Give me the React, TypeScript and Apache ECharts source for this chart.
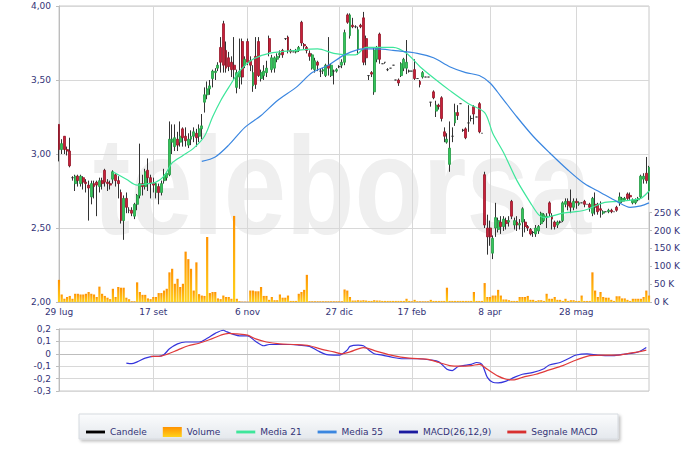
import React, { useEffect, useRef } from "react";
import * as echarts from "echarts";

// ---------- DATA ----------
const tickIdx = [0, 35, 70, 104, 131, 160, 192];
const tickLabels = ["29 lug", "17 set", "6 nov", "27 dic", "17 feb", "8 apr", "28 mag"];

// [open, close, low, high]
const candles: number[][] = [
  [3.20,3.03,2.95,3.20],[3.03,3.07,3.00,3.10],[3.12,3.03,3.00,3.12],[3.03,3.02,2.99,3.05],[3.02,2.92,2.91,3.11],
  [2.84,2.84,2.82,2.85],[2.80,2.85,2.75,2.86],[2.85,2.82,2.78,2.86],[2.80,2.85,2.78,2.86],[2.84,2.81,2.76,2.85],
  [2.81,2.80,2.74,2.83],[2.79,2.77,2.55,2.82],[2.71,2.80,2.66,2.82],[2.80,2.78,2.70,2.82],[2.81,2.79,2.58,2.82],
  [2.78,2.82,2.74,2.84],[2.82,2.80,2.76,2.84],[2.89,2.81,2.78,2.90],[2.81,2.80,2.75,2.83],[2.80,2.79,2.76,2.82],
  [2.83,2.88,2.80,2.89],[2.86,2.82,2.78,2.87],[2.82,2.80,2.70,2.85],[2.74,2.55,2.53,2.76],[2.55,2.70,2.42,2.72],
  [2.70,2.64,2.60,2.74],[2.62,2.62,2.60,2.64],[2.62,2.60,2.58,2.64],[2.58,2.66,2.56,2.67],[2.66,2.72,2.62,2.73],
  [2.72,2.80,2.70,3.07],[2.80,2.78,2.72,2.86],[2.78,2.88,2.76,2.90],[2.89,2.84,2.75,2.97],[2.84,2.80,2.70,2.86],
  [2.80,2.79,2.74,2.84],[2.74,2.80,2.70,2.81],[2.78,2.74,2.66,2.80],[2.74,2.80,2.72,2.82],[2.82,2.86,2.80,2.90],
  [2.84,2.87,2.82,2.88],[2.86,3.10,2.85,3.22],[3.08,3.10,3.00,3.20],[3.05,3.11,3.02,3.20],[3.10,3.06,3.02,3.15],
  [3.08,3.12,3.05,3.22],[3.17,3.11,3.05,3.18],[3.12,3.09,3.05,3.18],[3.06,3.10,3.04,3.14],[3.10,3.12,3.06,3.16],
  [3.12,3.15,3.08,3.18],[3.14,3.11,3.05,3.17],[3.12,3.17,3.08,3.20],[3.17,3.19,3.10,3.27],[3.35,3.40,3.28,3.45],
  [3.40,3.44,3.37,3.49],[3.44,3.46,3.40,3.50],[3.51,3.56,3.45,3.57],[3.55,3.56,3.50,3.58],[3.58,3.60,3.56,3.62],
  [3.72,3.62,3.55,3.79],[3.88,3.60,3.55,3.90],[3.70,3.58,3.55,3.76],[3.65,3.59,3.56,3.69],[3.62,3.57,3.52,3.66],
  [3.60,3.57,3.50,3.79],[3.45,3.55,3.41,3.57],[3.52,3.56,3.44,3.78],[3.76,3.52,3.47,3.78],[3.60,3.64,3.58,3.66],
  [3.76,3.62,3.60,3.78],[3.63,3.60,3.56,3.66],[3.46,3.55,3.42,3.60],[3.66,3.47,3.44,3.79],[3.76,3.53,3.52,3.79],
  [3.51,3.55,3.49,3.57],[3.53,3.56,3.50,3.60],[3.55,3.58,3.52,3.63],[3.78,3.69,3.66,3.80],[3.57,3.65,3.55,3.67],
  [3.58,3.65,3.55,3.66],[3.64,3.66,3.62,3.68],[3.67,3.68,3.65,3.70],[3.70,3.67,3.65,3.71],[3.78,3.78,3.77,3.78],
  [3.79,3.70,3.68,3.80],[3.70,3.69,3.68,3.71],[3.69,3.69,3.69,3.69],[3.69,3.70,3.68,3.71],[3.70,3.72,3.69,3.73],
  [3.89,3.75,3.73,3.90],[3.74,3.73,3.71,3.75],[3.72,3.70,3.68,3.73],[3.68,3.66,3.63,3.70],[3.58,3.67,3.57,3.68],
  [3.57,3.63,3.55,3.65],[3.62,3.60,3.56,3.63],[3.56,3.56,3.52,3.58],[3.56,3.57,3.54,3.58],[3.53,3.60,3.52,3.61],
  [3.60,3.58,3.53,3.79],[3.53,3.60,3.52,3.61],[3.56,3.56,3.47,3.57],[3.56,3.57,3.55,3.58],[3.59,3.59,3.58,3.60],
  [3.60,3.62,3.58,3.64],[3.62,3.82,3.60,3.84],[3.94,3.89,3.88,3.95],[3.80,3.94,3.78,3.95],[3.87,3.86,3.85,3.92],
  [3.86,3.86,3.85,3.87],[3.71,3.84,3.67,3.86],[3.87,3.86,3.85,3.88],[3.92,3.62,3.60,3.96],[3.78,3.65,3.60,3.80],
  [3.53,3.53,3.50,3.53],[3.55,3.54,3.52,3.56],[3.42,3.70,3.40,3.72],[3.64,3.72,3.62,3.73],[3.81,3.64,3.61,3.82],
  [3.61,3.61,3.61,3.61],[3.62,3.62,3.61,3.62],[3.57,3.57,3.56,3.58],[3.58,3.58,3.58,3.58],[3.60,3.60,3.60,3.60],
  [3.50,3.50,3.50,3.50],[3.50,3.48,3.46,3.51],[3.53,3.61,3.52,3.62],[3.58,3.64,3.56,3.65],[3.58,3.62,3.54,3.77],
  [3.56,3.56,3.55,3.57],[3.56,3.56,3.56,3.56],[3.57,3.51,3.50,3.64],[3.51,3.51,3.51,3.51],[3.49,3.47,3.45,3.50],
  [3.52,3.55,3.51,3.56],[3.52,3.52,3.52,3.52],[3.52,3.52,3.52,3.52],[3.35,3.35,3.32,3.35],[3.42,3.38,3.37,3.43],
  [3.29,3.33,3.25,3.36],[3.33,3.32,3.30,3.34],[3.38,3.24,3.22,3.39],[3.15,3.12,3.08,3.18],[3.08,3.10,3.07,3.14],
  [2.93,3.04,2.88,3.22],[3.12,3.12,3.08,3.18],[3.21,3.28,3.19,3.34],[3.28,3.26,3.23,3.33],[3.34,3.34,3.34,3.34],
  [3.16,3.16,3.15,3.17],[3.17,3.11,3.10,3.18],[3.21,3.21,3.15,3.33],[3.24,3.24,3.22,3.26],[3.32,3.27,3.20,3.33],
  [3.25,3.25,3.25,3.25],[3.34,3.15,3.14,3.35],[3.14,3.14,3.14,3.14],[2.86,2.52,2.50,2.88],[2.50,2.44,2.32,2.59],
  [2.50,2.44,2.38,2.55],[2.33,2.43,2.29,2.45],[2.50,2.57,2.44,2.67],[2.49,2.55,2.47,2.57],[2.54,2.51,2.46,2.58],
  [2.51,2.56,2.48,2.58],[2.55,2.53,2.49,2.57],[2.54,2.55,2.51,2.58],[2.68,2.58,2.56,2.69],[2.52,2.55,2.49,2.57],
  [2.54,2.52,2.48,2.58],[2.52,2.53,2.49,2.56],[2.54,2.63,2.44,2.64],[2.54,2.51,2.47,2.56],[2.51,2.50,2.48,2.52],
  [2.49,2.46,2.45,2.50],[2.47,2.47,2.44,2.48],[2.46,2.50,2.44,2.52],[2.48,2.51,2.46,2.52],[2.53,2.60,2.52,2.61],
  [2.55,2.59,2.54,2.60],[2.57,2.58,2.50,2.60],[2.67,2.60,2.58,2.68],[2.58,2.56,2.49,2.60],[2.54,2.51,2.49,2.55],
  [2.52,2.54,2.50,2.55],[2.54,2.54,2.53,2.55],[2.55,2.67,2.54,2.68],[2.66,2.68,2.64,2.70],[2.68,2.65,2.62,2.70],
  [2.67,2.64,2.60,2.76],[2.64,2.68,2.62,2.70],[2.68,2.67,2.63,2.70],[2.66,2.67,2.65,2.68],[2.67,2.67,2.67,2.67],
  [2.68,2.66,2.64,2.69],[2.66,2.66,2.66,2.66],[2.66,2.64,2.61,2.67],[2.60,2.70,2.58,2.71],[2.66,2.64,2.59,2.74],
  [2.66,2.61,2.59,2.67],[2.63,2.62,2.57,2.68],[2.60,2.61,2.59,2.62],[2.61,2.61,2.61,2.61],[2.61,2.62,2.60,2.63],
  [2.62,2.61,2.60,2.63],[2.61,2.61,2.61,2.61],[2.64,2.62,2.61,2.65],[2.67,2.71,2.65,2.74],[2.68,2.70,2.67,2.71],
  [2.69,2.70,2.68,2.71],[2.73,2.70,2.69,2.74],[2.72,2.71,2.69,2.74],[2.67,2.69,2.66,2.70],[2.67,2.69,2.66,2.70],
  [2.69,2.70,2.68,2.71],[2.71,2.85,2.70,2.86],[2.83,2.85,2.80,2.87],[2.87,2.82,2.80,2.98],[2.75,2.91,2.69,2.92],
];

// volume in thousands
const volumes = [
  62,21,9,14,17,9,23,23,21,21, 23,28,23,21,14,43,23,17,12,8,
  37,14,42,40,40,12,8,2,2,55, 28,20,20,10,8,14,14,25,25,32,
  37,83,93,51,65,42,51,141,120,93, 32,111,22,18,17,182,25,28,28,10,
  8,18,14,14,9,241,9,2,1,1, 1,32,32,30,30,42,17,17,6,14,
  5,5,21,12,12,18,3,3,3,23, 28,34,76,2,2,2,2,2,2,2,
  2,2,2,2,2,2,35,32,14,4, 4,5,4,5,4,3,3,5,4,4,
  3,3,3,3,3,3,3,3,3,9, 3,2,6,2,2,2,2,2,6,3,
  3,3,3,3,40,3,3,3,3,3, 3,3,3,3,28,3,3,3,53,14,
  14,18,18,34,18,7,7,5,3,3, 3,14,14,14,17,6,6,3,5,5,
  3,23,9,9,14,6,6,3,9,3, 5,5,3,3,18,3,3,3,83,32,
  14,28,14,12,12,6,3,16,16,10, 10,6,3,9,9,9,9,14,32,18,
];

// [index, value] points
const ma21: number[][] = [
  [20,2.88],[25,2.83],[29,2.79],[33,2.80],[36,2.81],[39,2.85],[42,2.94],[46,2.99],[50,3.04],[54,3.12],
  [57,3.25],[60,3.36],[63,3.45],[67,3.56],[72,3.64],[78,3.68],[88,3.70],[96,3.71],[102,3.68],[107,3.67],
  [110,3.67],[114,3.72],[124,3.72],[129,3.68],[134,3.59],[140,3.50],[145,3.43],[152,3.34],[158,3.28],[161,3.14],
  [165,3.01],[170,2.82],[175,2.67],[178,2.59],[180,2.57],[187,2.60],[195,2.62],[202,2.67],[207,2.68],[213,2.69],
  [216,2.70],[219,2.75],
];
const ma55: number[][] = [
  [53,2.95],[58,2.98],[63,3.06],[69,3.18],[75,3.26],[81,3.36],[88,3.45],[94,3.55],[100,3.60],[106,3.67],
  [113,3.71],[118,3.71],[124,3.70],[133,3.68],[139,3.65],[145,3.59],[151,3.55],[156,3.53],[160,3.48],[164,3.39],
  [170,3.25],[176,3.12],[182,3.01],[189,2.89],[195,2.80],[201,2.74],[207,2.68],[212,2.64],[216,2.65],[219,2.67],
];
const macd: number[][] = [
  [25,-0.075],[27,-0.08],[29,-0.065],[32,-0.035],[35,-0.02],[37,-0.02],[39,-0.005],[41,0.04],[44,0.08],[47,0.095],
  [50,0.095],[52,0.095],[55,0.125],[58,0.165],[61,0.19],[62,0.18],[65,0.155],[67,0.145],[70,0.145],[73,0.10],
  [76,0.065],[78,0.075],[82,0.075],[86,0.075],[89,0.07],[93,0.06],[96,0.025],[99,-0.005],[102,-0.01],[104,-0.01],
  [107,0.03],[108,0.06],[111,0.07],[113,0.065],[115,0.03],[117,0],[120,-0.01],[124,-0.03],[128,-0.04],[133,-0.04],
  [138,-0.05],[141,-0.065],[144,-0.125],[146,-0.135],[148,-0.105],[150,-0.095],[153,-0.085],[155,-0.07],[157,-0.085],[159,-0.19],
  [161,-0.23],[163,-0.235],[166,-0.22],[169,-0.19],[172,-0.165],[176,-0.15],[180,-0.12],[182,-0.09],[186,-0.07],[189,-0.04],
  [192,-0.01],[196,0],[200,-0.01],[205,-0.015],[209,-0.005],[214,0.01],[216,0.025],[218,0.05],
];
const signal: number[][] = [
  [34,-0.02],[37,-0.02],[40,-0.005],[44,0.03],[48,0.065],[52,0.085],[56,0.115],[60,0.15],[63,0.165],[66,0.16],
  [70,0.15],[73,0.12],[77,0.095],[82,0.08],[87,0.075],[93,0.065],[97,0.04],[102,0.015],[105,0],[108,0.015],
  [113,0.05],[118,0.02],[124,-0.015],[130,-0.035],[137,-0.045],[141,-0.07],[145,-0.095],[149,-0.10],[153,-0.095],[156,-0.085],
  [159,-0.125],[163,-0.18],[166,-0.205],[169,-0.21],[172,-0.19],[177,-0.165],[182,-0.13],[187,-0.095],[192,-0.05],[197,-0.015],
  [202,-0.01],[207,-0.01],[212,0.005],[216,0.02],[218,0.03],
];

// ---------- STYLE ----------
const FONT = "DejaVu Sans";
const NAVY = "#333377";
const GRIDC = "#d8d8d8";
const AXISC = "#bdbdbd";
const UP = "#35c45a";
const DOWN = "#c8203a";
const C_MA21 = "#3ee69b";
const C_MA55 = "#3a86e0";
const C_MACD = "#3434dc";
const C_SIG = "#e03a3a";
const LINE_ICON = "path://M0 0H20V3H0Z";

export default function App() {
  const ref = useRef<HTMLDivElement>(null);

  useEffect(() => {
    if (!ref.current) return;
    const chart = echarts.init(ref.current, undefined, { renderer: "svg" });
    const N = candles.length;
    const cats = Array.from({ length: N }, (_, i) => String(i));
    const showTick = (i: number) => tickIdx.includes(i);
    const volGrad = () =>
      new echarts.graphic.LinearGradient(0, 0, 0, 1, [
        { offset: 0, color: "#ff9200" },
        { offset: 1, color: "#ffd21c" },
      ]);
    const bodies = candles.map(([o, c]) => [o, c, Math.min(o, c), Math.max(o, c)]);

    const xBase = (gridIndex: number, labels: boolean, show = true) => ({
      type: "category" as const,
      gridIndex,
      data: cats,
      boundaryGap: false,
      show,
      z: 1.5,
      axisLine: { show: true, lineStyle: { color: AXISC } },
      axisTick: { show: false },
      axisLabel: {
        show: labels,
        interval: (i: number) => showTick(i),
        formatter: (v: string) => {
          const k = tickIdx.indexOf(Number(v));
          return k >= 0 ? tickLabels[k] : "";
        },
        color: NAVY,
        fontSize: 9,
        fontFamily: FONT,
        margin: 5,
      },
      splitLine: { show: true, interval: (i: number) => showTick(i), lineStyle: { color: GRIDC } },
    });

    const legendItem = (name: string, icon: string, color: any) => ({
      name, icon, itemStyle: { color, borderWidth: 0, borderColor: "transparent" },
    });

    chart.setOption({
      animation: false,
      backgroundColor: "#ffffff",
      textStyle: { fontFamily: FONT },
      grid: [
        { left: 59, top: 6, width: 590, height: 296, show: true, borderColor: "#c8c8c8", borderWidth: 1, backgroundColor: "transparent" },
        { left: 59, top: 212.7, width: 590, height: 89.3, show: false },
        { left: 59, top: 329, width: 590, height: 62, show: true, borderColor: "#c8c8c8", borderWidth: 1, backgroundColor: "transparent" },
      ],
      xAxis: [xBase(0, true), { ...xBase(1, false, false) }, xBase(2, false)],
      yAxis: [
        {
          type: "value", gridIndex: 0, min: 2, max: 4, interval: 0.5, z: 1.5,
          axisLine: { show: true, lineStyle: { color: AXISC } },
          axisTick: { show: true, length: 3, lineStyle: { color: AXISC } },
          axisLabel: { formatter: (v: number) => v.toFixed(2).replace(".", ","), color: NAVY, fontSize: 9, fontFamily: FONT, margin: 8 },
          splitLine: { lineStyle: { color: GRIDC } },
        },
        {
          type: "value", gridIndex: 1, position: "right", min: 0, max: 250, interval: 50, z: 1.5,
          axisLine: { show: true, lineStyle: { color: AXISC } },
          axisTick: { show: true, length: 3, lineStyle: { color: AXISC } },
          axisLabel: { formatter: (v: number) => `${v} K`, color: NAVY, fontSize: 9, fontFamily: FONT, margin: 5 },
          splitLine: { show: false },
        },
        {
          type: "value", gridIndex: 2, min: -0.3, max: 0.2, interval: 0.1, z: 1.5,
          axisLine: { show: true, lineStyle: { color: AXISC } },
          axisTick: { show: true, length: 3, lineStyle: { color: AXISC } },
          axisLabel: {
            formatter: (v: number) => (Math.abs(v) < 1e-9 ? "0" : v.toFixed(1).replace(".", ",")),
            color: NAVY, fontSize: 9, fontFamily: FONT, margin: 8,
          },
          splitLine: { lineStyle: { color: GRIDC } },
        },
      ],
      legend: {
        left: 81, top: 422, itemWidth: 19, itemHeight: 10, itemGap: 16, selectedMode: false,
        textStyle: { color: NAVY, fontSize: 9, fontFamily: FONT },
        data: [
          legendItem("Candele", LINE_ICON, "#000000"),
          legendItem("Volume", "rect", volGrad()),
          legendItem("Media 21", LINE_ICON, C_MA21),
          legendItem("Media 55", LINE_ICON, C_MA55),
          legendItem("MACD(26,12,9)", LINE_ICON, "#1a1aa0"),
          legendItem("Segnale MACD", LINE_ICON, "#d83030"),
        ],
      },
      graphic: [
        {
          type: "rect", z: 0, silent: true,
          shape: { x: 79, y: 414, width: 539, height: 25 },
          style: {
            fill: new echarts.graphic.LinearGradient(0, 0, 0, 1, [
              { offset: 0, color: "#fbfcfd" },
              { offset: 1, color: "#e4e8ed" },
            ]),
            stroke: "#d6dadf", lineWidth: 1,
            shadowBlur: 3, shadowOffsetX: 2, shadowOffsetY: 2, shadowColor: "rgba(0,0,0,0.25)",
          },
        },
        {
          type: "text", z: 1, silent: true, x: 93, y: 185, scaleX: 0.8,
          style: {
            text: "teleborsa", fill: "#efefef", fontSize: 140, fontWeight: "bold",
            fontFamily: "Liberation Sans", align: "left", verticalAlign: "middle",
          },
        },
      ],
      series: [
        {
          name: "Volume", type: "bar", xAxisIndex: 1, yAxisIndex: 1, data: volumes, barWidth: 2.2, z: 2,
          itemStyle: { color: volGrad() },
        },
        {
          name: "Candele", type: "candlestick", xAxisIndex: 0, yAxisIndex: 0, data: candles, barWidth: 1, z: 3,
          itemStyle: { color: "#333", color0: "#333", borderColor: "#333", borderColor0: "#333", borderWidth: 1 },
        },
        {
          name: "Candele", type: "candlestick", xAxisIndex: 0, yAxisIndex: 0, data: bodies, barWidth: 2.4, z: 3,
          itemStyle: { color: UP, color0: DOWN, borderColor: "#259a45", borderColor0: "#961628", borderColorDoji: "#333", borderWidth: 0.8 },
        },
        {
          name: "Media 21", type: "line", xAxisIndex: 0, yAxisIndex: 0, data: ma21, showSymbol: false, smooth: 0.3, z: 4,
          lineStyle: { color: C_MA21, width: 1.2 }, itemStyle: { color: C_MA21 },
        },
        {
          name: "Media 55", type: "line", xAxisIndex: 0, yAxisIndex: 0, data: ma55, showSymbol: false, smooth: 0.3, z: 4,
          lineStyle: { color: C_MA55, width: 1.2 }, itemStyle: { color: C_MA55 },
        },
        {
          name: "MACD(26,12,9)", type: "line", xAxisIndex: 2, yAxisIndex: 2, data: macd, showSymbol: false, smooth: 0.3, z: 4,
          lineStyle: { color: C_MACD, width: 1.2 }, itemStyle: { color: C_MACD },
        },
        {
          name: "Segnale MACD", type: "line", xAxisIndex: 2, yAxisIndex: 2, data: signal, showSymbol: false, smooth: 0.3, z: 4,
          lineStyle: { color: C_SIG, width: 1.2 }, itemStyle: { color: C_SIG },
        },
      ],
    });
    return () => chart.dispose();
  }, []);

  return (
    <div
      ref={ref}
      style={{ position: "absolute", left: 0, top: 0, width: 700, height: 451, background: "#fff" }}
    />
  );
}
